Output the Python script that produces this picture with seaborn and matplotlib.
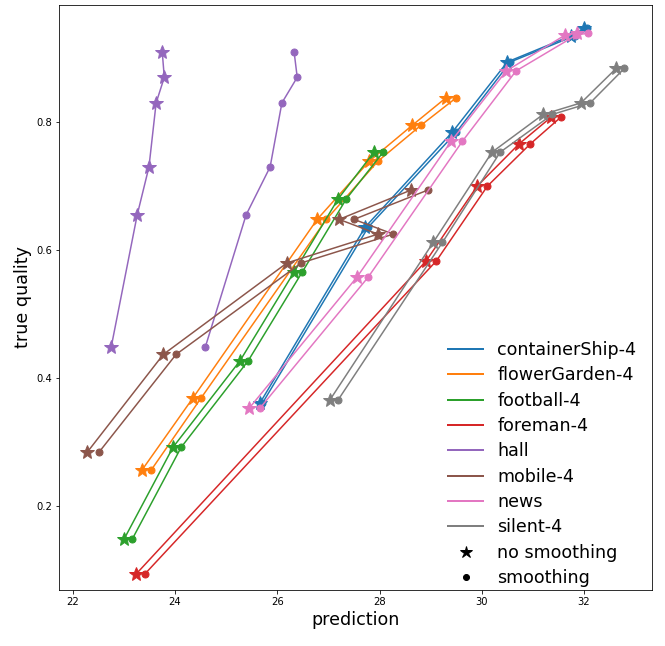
import matplotlib

matplotlib.use("Agg")

import matplotlib.pyplot as plt
from matplotlib.lines import Line2D
import pandas as pd
import seaborn as sns

VIDEOS = ["containerShip-4", "flowerGarden-4", "football-4", "foreman-4",
          "hall", "mobile-4", "news", "silent-4"]

# true quality per point (same for both modes)
QUALITY = {
    "containerShip-4": [0.361, 0.636, 0.784, 0.894, 0.935, 0.947],
    "flowerGarden-4": [0.256, 0.369, 0.648, 0.739, 0.795, 0.838],
    "football-4": [0.148, 0.292, 0.427, 0.566, 0.680, 0.753],
    "foreman-4": [0.094, 0.583, 0.700, 0.766, 0.808],
    "hall": [0.448, 0.655, 0.730, 0.830, 0.870, 0.909],
    "mobile-4": [0.284, 0.437, 0.580, 0.625, 0.648, 0.694],
    "news": [0.353, 0.558, 0.770, 0.880, 0.936, 0.939],
    "silent-4": [0.366, 0.612, 0.753, 0.812, 0.830, 0.884],
}

# prediction without smoothing (stars)
PRED_RAW = {
    "containerShip-4": [25.66, 27.72, 29.42, 30.50, 31.75, 32.00],
    "flowerGarden-4": [23.35, 24.35, 26.78, 27.80, 28.64, 29.30],
    "football-4": [23.00, 23.96, 25.27, 26.33, 27.19, 27.89],
    "foreman-4": [23.24, 28.91, 29.91, 30.73, 31.36],
    "hall": [22.75, 23.26, 23.49, 23.63, 23.79, 23.75],
    "mobile-4": [22.28, 23.77, 26.19, 27.97, 27.21, 28.62],
    "news": [25.45, 27.56, 29.40, 30.48, 31.63, 31.87],
    "silent-4": [27.03, 29.05, 30.20, 31.20, 31.94, 32.63],
}

# prediction with smoothing (dots)
PRED_SMOOTH = {
    "containerShip-4": [25.71, 27.78, 29.50, 30.56, 31.82, 32.06],
    "flowerGarden-4": [23.53, 24.51, 26.96, 27.97, 28.81, 29.50],
    "football-4": [23.16, 24.12, 25.43, 26.49, 27.35, 28.07],
    "foreman-4": [23.41, 29.11, 30.11, 30.95, 31.55],
    "hall": [24.59, 25.39, 25.86, 26.09, 26.39, 26.33],
    "mobile-4": [22.51, 24.02, 26.47, 28.27, 27.50, 28.95],
    "news": [25.66, 27.78, 29.62, 30.67, 31.85, 32.08],
    "silent-4": [27.19, 29.23, 30.36, 31.38, 32.12, 32.79],
}


def build_frame() -> pd.DataFrame:
    rows = []
    for video in VIDEOS:
        for mode, preds in (("no smoothing", PRED_RAW[video]), ("smoothing", PRED_SMOOTH[video])):
            for i, (p, q) in enumerate(zip(preds, QUALITY[video])):
                rows.append({"video": video, "mode": mode, "step": i,
                             "prediction": p, "true quality": q})
    return pd.DataFrame(rows)


def main() -> None:
    df = build_frame()
    palette = dict(zip(VIDEOS, sns.color_palette("tab10", len(VIDEOS))))
    marker_style = {"no smoothing": ("*", 14), "smoothing": ("o", 7)}

    fig = plt.figure(figsize=(665 / 72, 646 / 72), dpi=72)
    ax = fig.add_axes([0.0887, 0.0867, 0.8918, 0.9056])

    for video in VIDEOS:
        for mode, (marker, size) in marker_style.items():
            sub = df[(df["video"] == video) & (df["mode"] == mode)]
            sns.lineplot(data=sub, x="prediction", y="true quality", sort=False,
                         estimator=None, color=palette[video], marker=marker,
                         markersize=size, markeredgewidth=1,
                         markeredgecolor=palette[video], linewidth=1.5,
                         legend=False, ax=ax)

    ax.set_xlim(21.73, 33.33)
    ax.set_ylim(0.069, 0.983)
    ax.set_xticks([22, 24, 26, 28, 30, 32])
    ax.set_yticks([0.2, 0.4, 0.6, 0.8])
    ax.tick_params(labelsize=10)
    ax.set_xlabel("prediction", fontsize=17.5)
    ax.set_ylabel("true quality", fontsize=17.5)

    handles = [Line2D([], [], color=palette[v], linewidth=2) for v in VIDEOS]
    handles.append(Line2D([], [], color="k", marker="*", linestyle="none", markersize=13))
    handles.append(Line2D([], [], color="k", marker="o", linestyle="none", markersize=6))
    labels = VIDEOS + ["no smoothing", "smoothing"]
    ax.legend(handles, labels, loc="lower right", bbox_to_anchor=(1.0, -0.022),
              frameon=False, fontsize=17.5, labelspacing=0.42)

    fig.savefig("out.png", dpi=72)
    plt.close(fig)


if __name__ == "__main__":
    main()
